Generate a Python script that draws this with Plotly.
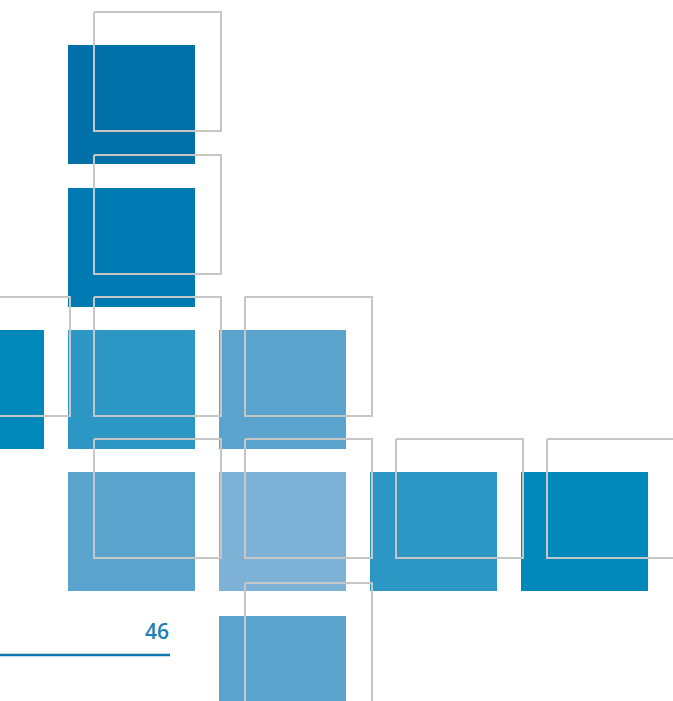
import plotly.graph_objects as go

# Grid of tiles (pixel-space coordinates, y downward)
col_lefts = [-83, 68, 219, 370, 521]
row_tops = [45, 188, 330, 472, 616]
tile_w = 127
tile_h = 119
outline_dx = 26
outline_dy = -33

tile_rows = [0, 1, 2, 2, 2, 3, 3, 3, 3, 4]
tile_cols = [1, 1, 0, 1, 2, 1, 2, 3, 4, 2]
tile_colors = ["#0070A8", "#007AB2", "#0088BA", "#2C96C5", "#5AA3CC",
               "#5AA3CC", "#7DB2D6", "#2C96C5", "#0088BA", "#5AA3CC"]

page_label = "46"
rule_x = [0, 170]
rule_y = [655, 655]

fig = go.Figure()

for r, c, col in zip(tile_rows, tile_cols, tile_colors):
    x0 = col_lefts[c]
    y0 = row_tops[r]
    fig.add_trace(go.Scatter(
        x=[x0, x0 + tile_w, x0 + tile_w, x0, x0],
        y=[y0, y0, y0 + tile_h, y0 + tile_h, y0],
        fill="toself", fillcolor=col, mode="none",
        hoverinfo="skip", showlegend=False))

for r, c in zip(tile_rows, tile_cols):
    x0 = col_lefts[c] + outline_dx
    y0 = row_tops[r] + outline_dy
    fig.add_trace(go.Scatter(
        x=[x0, x0 + tile_w, x0 + tile_w, x0, x0],
        y=[y0, y0, y0 + tile_h, y0 + tile_h, y0],
        mode="lines", line=dict(color="#C6C6C6", width=2),
        hoverinfo="skip", showlegend=False))

fig.add_trace(go.Scatter(
    x=rule_x, y=rule_y, mode="lines",
    line=dict(color="#0E76AE", width=2.5),
    hoverinfo="skip", showlegend=False))

fig.add_annotation(
    x=171, y=647, text=page_label, showarrow=False,
    xanchor="right", yanchor="bottom",
    font=dict(family="Open Sans, sans-serif", size=21, weight=600,
              color="#1A7FB8"))

fig.update_layout(
    width=673, height=701,
    margin=dict(l=0, r=0, t=0, b=0),
    paper_bgcolor="white", plot_bgcolor="white",
    xaxis=dict(range=[0, 673], visible=False, fixedrange=True),
    yaxis=dict(range=[701, 0], visible=False, fixedrange=True),
)

fig.write_html("out.html", config={"displayModeBar": False},
               post_script="document.body.style.margin='0';")
